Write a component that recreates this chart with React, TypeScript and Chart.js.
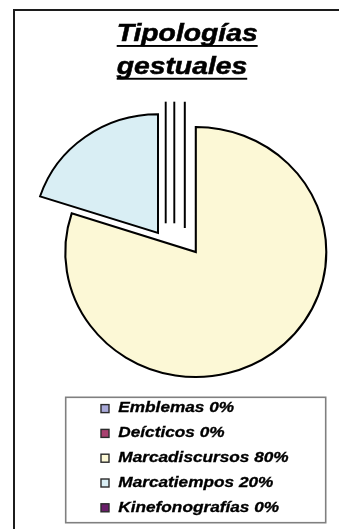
import React, { useEffect, useRef } from 'react';
import { Chart, registerables } from 'chart.js';

Chart.register(...registerables);

// ---- data ----
const titleLines = ['Tipologías', 'gestuales'];
const categories = ['Emblemas', 'Deícticos', 'Marcadiscursos', 'Marcatiempos', 'Kinefonografías'];
const percentages = [0, 0, 80, 20, 0];

// ---- styles ----
const sliceColors = ['#A9A9D9', '#A8406F', '#FCF8D6', '#D9EEF4', '#6A1E6A'];
// explosion of each slice (shift of its apex in px, and its scale)
const explodeX = [-11, -21.5, 0, -37.8, -30.1];
const explodeY = [-24, -28.7, 0, -19, -28.7];
const explodeScale = [1.01, 0.973, 1, 0.95, 0.973];
const PIE_STRETCH_X = 1.044;
const FONT = '"Liberation Sans", Arial, sans-serif';

const W = 339;
const H = 529;

const framePlugin = {
  id: 'excelFrame',
  beforeDraw(chart: any) {
    const ctx = chart.ctx;
    ctx.save();
    ctx.fillStyle = '#ffffff';
    ctx.fillRect(0, 0, W, H);
    ctx.strokeStyle = '#1c1c1c';
    ctx.lineWidth = 2;
    ctx.beginPath();
    ctx.moveTo(14, H + 5);
    ctx.lineTo(14, 10);
    ctx.lineTo(W + 5, 10);
    ctx.stroke();
    ctx.restore();
  },
};

const explodedPiePlugin = {
  id: 'explodedPie',
  beforeDatasetsDraw(chart: any) {
    const ctx = chart.ctx;
    const meta = chart.getDatasetMeta(0);
    meta.data.forEach((arc: any, i: number) => {
      const p = arc.getProps(['x', 'y', 'startAngle', 'endAngle', 'outerRadius'], true);
      const s = explodeScale[i];
      ctx.save();
      ctx.translate(p.x + explodeX[i], p.y + explodeY[i]);
      ctx.scale(PIE_STRETCH_X * s, s);
      ctx.translate(-p.x, -p.y);
      if (p.endAngle - p.startAngle === 0) {
        ctx.beginPath();
        ctx.moveTo(p.x, p.y);
        ctx.lineTo(p.x + p.outerRadius * Math.cos(p.startAngle), p.y + p.outerRadius * Math.sin(p.startAngle));
        ctx.lineWidth = 1.9;
        ctx.strokeStyle = '#000000';
        ctx.stroke();
      } else {
        arc.draw(ctx);
      }
      ctx.restore();
    });
    return false;
  },
};

const titleLegendPlugin = {
  id: 'titleLegend',
  afterDraw(chart: any) {
    const ctx = chart.ctx;
    ctx.save();
    // title
    ctx.font = `italic bold 23px ${FONT}`;
    ctx.textBaseline = 'alphabetic';
    ctx.textAlign = 'left';
    ctx.fillStyle = '#000000';
    const titleX = 116.7;
    const baselines = [41, 73.8];
    titleLines.forEach((line, i) => {
      ctx.save();
      ctx.translate(titleX, baselines[i]);
      ctx.scale(1.23, 1);
      ctx.fillText(line, 0, 0);
      ctx.lineWidth = 0.5;
      ctx.strokeStyle = '#000000';
      ctx.strokeText(line, 0, 0);
      const w = ctx.measureText(line).width;
      ctx.fillRect(0, 4, w, 1.9);
      ctx.restore();
    });

    // legend box
    ctx.strokeStyle = '#808080';
    ctx.lineWidth = 1.6;
    ctx.strokeRect(65.7, 397.3, 260, 125.4);

    ctx.font = `italic bold 14px ${FONT}`;
    ctx.textBaseline = 'middle';
    categories.forEach((cat, i) => {
      const cy = 408.6 + i * 24.8;
      ctx.fillStyle = sliceColors[i];
      ctx.fillRect(101, cy - 4, 8, 8);
      ctx.strokeStyle = '#2a2a2a';
      ctx.lineWidth = 1.4;
      ctx.strokeRect(101, cy - 4, 8, 8);
      ctx.save();
      ctx.translate(118.3, cy);
      ctx.scale(1.23, 1);
      ctx.fillStyle = '#000000';
      ctx.fillText(`${cat} ${percentages[i]}%`, 0, 0);
      ctx.lineWidth = 0.3;
      ctx.strokeStyle = '#000000';
      ctx.strokeText(`${cat} ${percentages[i]}%`, 0, 0);
      ctx.restore();
    });
    ctx.restore();
  },
};

export default function App() {
  const ref = useRef<HTMLCanvasElement | null>(null);

  useEffect(() => {
    if (!ref.current) return;
    const chart = new Chart(ref.current, {
      type: 'pie',
      data: {
        labels: categories,
        datasets: [
          {
            data: percentages,
            backgroundColor: sliceColors,
            borderColor: '#000000',
            borderWidth: 2,
            borderJoinStyle: 'miter',
          } as any,
        ],
      },
      options: {
        responsive: false,
        animation: false,
        events: [],
        radius: 125,
        rotation: 0,
        layout: { padding: { left: 60, right: 7.4, top: 120, bottom: 145 } },
        plugins: {
          legend: { display: false },
          title: { display: false },
          tooltip: { enabled: false },
        },
      } as any,
      plugins: [framePlugin, explodedPiePlugin, titleLegendPlugin],
    });
    return () => chart.destroy();
  }, []);

  return (
    <div style={{ position: 'absolute', left: 0, top: 0, width: W, height: H, background: '#fff' }}>
      <canvas ref={ref} width={W} height={H} style={{ display: 'block', width: W, height: H }} />
    </div>
  );
}
